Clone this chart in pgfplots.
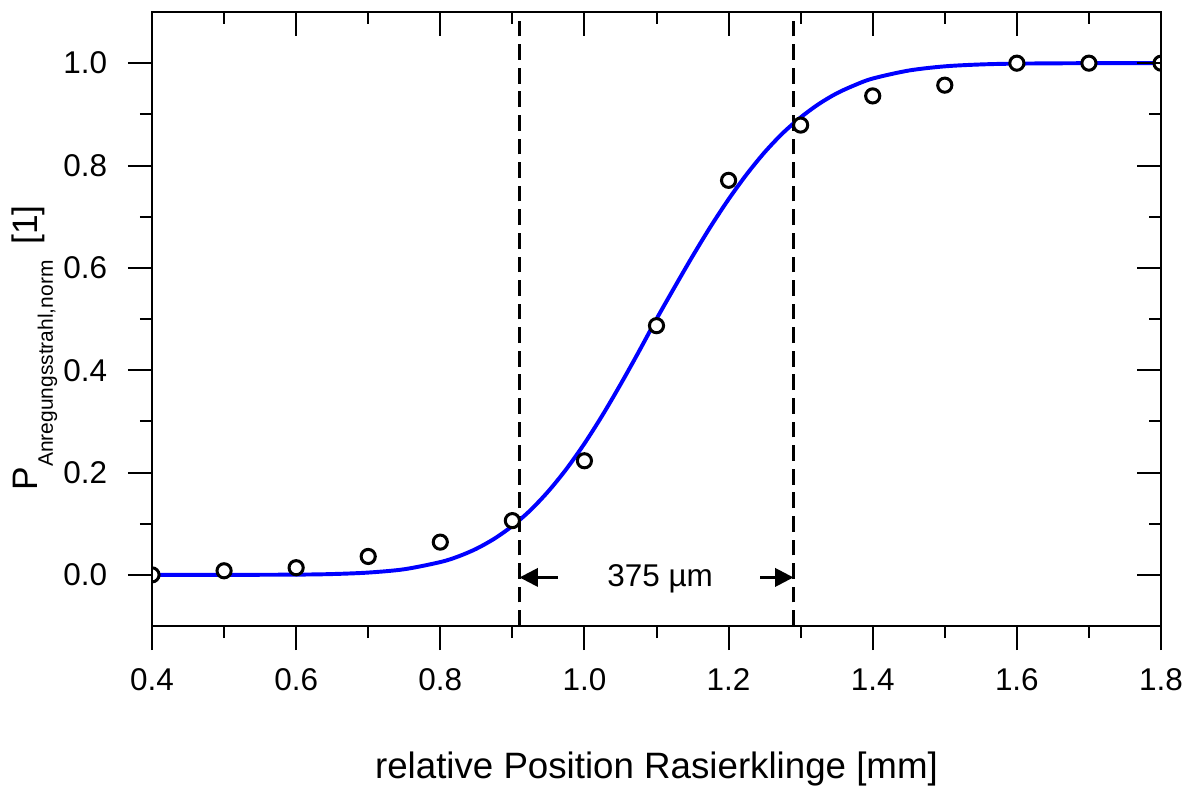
\documentclass[border=0pt]{standalone}
\usepackage{fontspec}
\setmainfont{Liberation Sans}
\usepackage{pgfplots}
\pgfplotsset{compat=1.18}
\usetikzlibrary{arrows.meta, calc}
\definecolor{fitblue}{RGB}{0,0,255}

% measured points
\pgfplotstableread{
x     y
0.4   0.000
0.5   0.008
0.6   0.014
0.7   0.036
0.8   0.064
0.9   0.106
1.0   0.223
1.1   0.487
1.2   0.771
1.3   0.879
1.4   0.936
1.5   0.957
1.6   1.000
1.7   1.000
1.8   1.000
}\meas

% fit curve
\pgfplotstableread{
x      y
0.400  0.0000
0.500  0.0000
0.600  0.0005
0.650  0.0016
0.700  0.0045
0.750  0.0110
0.800  0.0250
0.825  0.0360
0.850  0.0510
0.875  0.0707
0.900  0.0956
0.925  0.1263
0.950  0.1635
0.975  0.2069
1.000  0.2566
1.025  0.3120
1.050  0.3720
1.075  0.4350
1.100  0.5000
1.125  0.5620
1.150  0.6227
1.175  0.6805
1.200  0.7340
1.225  0.7826
1.250  0.8258
1.275  0.8630
1.300  0.8940
1.325  0.9200
1.350  0.9410
1.375  0.9570
1.400  0.9700
1.450  0.9856
1.500  0.9938
1.550  0.9975
1.600  0.9991
1.700  1.0000
1.800  1.0000
}\fit

\pgfplotsset{
  common/.style={
    width=385pt, height=234.3pt, scale only axis,
    xmin=0.4, xmax=1.8, ymin=-0.1, ymax=1.1,
    xtick={0.4,0.6,...,1.81}, ytick={0,0.2,...,1.01},
    minor xtick={0.5,0.7,...,1.71}, minor ytick={0.1,0.3,...,0.91},
    major tick length=9.2pt, minor tick length=4.6pt,
    axis line style={line width=0.76pt},
    every tick/.style={black, line width=0.76pt},
  }
}

\begin{document}
\begin{tikzpicture}
\begin{axis}[
  common, name=main,
  xtick pos=left, ytick pos=left, tick align=outside,
  clip marker paths=true,
  tick label style={font=\fontsize{12}{14}\selectfont},
  /pgf/number format/.cd, fixed, fixed zerofill, precision=1, assume math mode=true,
  /pgfplots/.cd,
  xticklabel style={anchor=base, yshift=-15.4pt},
  yticklabel style={anchor=east, xshift=-7.7pt+0.333em},
  xlabel={relative Position Rasierklinge [mm]},
  xlabel style={at={(axis description cs:0.5,0)}, anchor=base, yshift=-58pt,
    font=\fontsize{14}{16}\selectfont},
  ylabel={P\raisebox{-5.7pt}{\fontsize{8}{10}\selectfont Anregungsstrahl,norm}\hspace{6pt}[1]},
  ylabel style={at={(axis description cs:-0.113,0.453)}, anchor=base,
    font=\fontsize{13.5}{16}\selectfont},
]
\addplot[black, line width=1.1pt, dash pattern=on 6pt off 3pt] coordinates {(0.91,-0.1) (0.91,1.1)};
\addplot[black, line width=1.1pt, dash pattern=on 6pt off 3pt] coordinates {(1.29,-0.1) (1.29,1.1)};
\addplot[fitblue, line width=1.5pt, smooth] table[x=x, y=y] {\fit};
\addplot[only marks, mark=*, mark size=2.7pt,
  mark options={draw=black, fill=white, line width=1.15pt}] table[x=x, y=y] {\meas};
\draw[line width=1pt, -{Triangle[length=7pt, width=7pt]}] (axis cs:0.963,-0.005) -- (axis cs:0.91,-0.005);
\draw[line width=1pt, -{Triangle[length=7pt, width=7pt]}] (axis cs:1.2436,-0.005) -- (axis cs:1.29,-0.005);
\node[anchor=base, font=\fontsize{12}{14}\selectfont] at (axis cs:1.105,-0.0235) {375 µm};
\end{axis}
\begin{axis}[
  common,
  xtick pos=right, ytick pos=right, tick align=inside,
  xticklabels={}, yticklabels={},
]
\end{axis}
\pgfresetboundingbox
\path ($(main.south west)+(-58pt,-60.67pt)$) rectangle ($(main.north east)+(10.68pt,4.58pt)$);
\end{tikzpicture}
\end{document}
